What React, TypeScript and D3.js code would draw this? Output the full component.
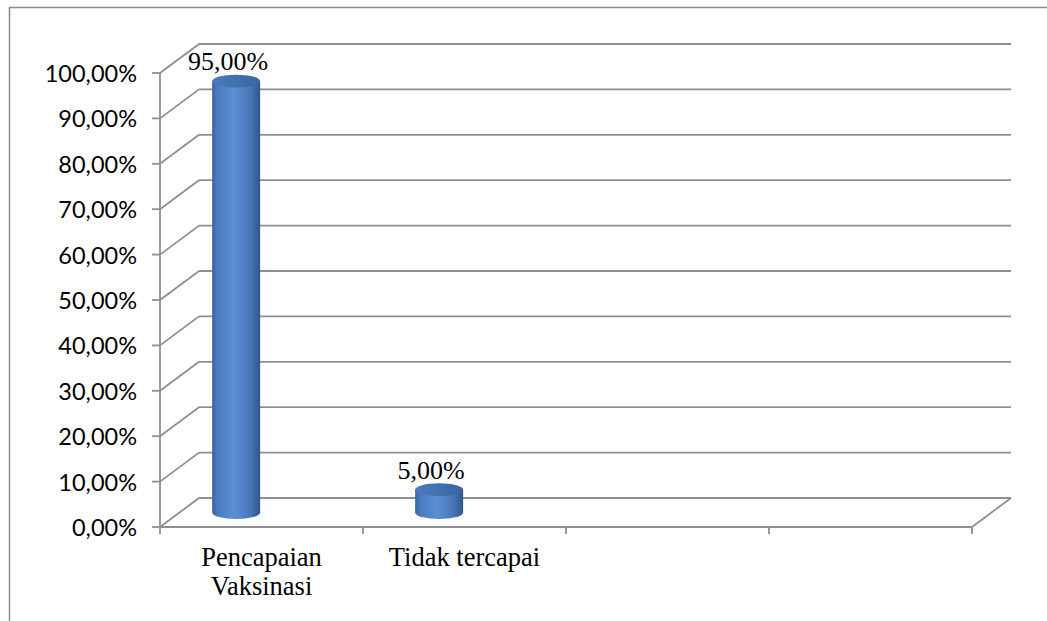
import * as d3 from "d3";

const categories = ["Pencapaian Vaksinasi", "Tidak tercapai", "", ""];
const categoryLines = [["Pencapaian", "Vaksinasi"], ["Tidak tercapai"], [], []];
const values = [95, 5];
const valueLabels = ["95,00%", "5,00%"];
const yTicks = [0, 10, 20, 30, 40, 50, 60, 70, 80, 90, 100];
const yTickLabels = yTicks.map((t) => `${t},00%`);

const width = 1047;
const height = 621;
const depthX = 39;
const depthY = -29;
const gridColor = "#8f8f8f";

const App = () => {
  const keys = categories.map((c, i) => c + i);
  const x = d3.scaleBand<string>().domain(keys).range([160, 972]).padding(0);
  const bw = x.bandwidth();
  const yFront = d3.scaleLinear().domain([0, 100]).range([527, 73]);
  const yMid = d3.scaleLinear().domain([0, 100]).range([527 + depthY / 2, 73 + depthY / 2]);

  const rx = 24;
  const ry = 6.5;

  return (
    <svg width={width} height={height} style={{ position: "absolute", left: 0, top: 0, background: "#fff" }}>
      <defs>
        <linearGradient id="body" x1="0" x2="1" y1="0" y2="0">
          <stop offset="0" stopColor="#3a659f" />
          <stop offset="0.12" stopColor="#4a7cbf" />
          <stop offset="0.45" stopColor="#5b8fd4" />
          <stop offset="0.8" stopColor="#4677b8" />
          <stop offset="1" stopColor="#2d5789" />
        </linearGradient>
        <linearGradient id="top" x1="0" x2="1" y1="0" y2="0">
          <stop offset="0" stopColor="#4a7bbd" />
          <stop offset="1" stopColor="#37669f" />
        </linearGradient>
      </defs>

      {/* outer frame */}
      <path d={`M9.5,${height} V7.5 H${width}`} fill="none" stroke="#8a8a8a" strokeWidth={1.5} />

      {/* back wall gridlines + side diagonals */}
      {yTicks.map((t) => (
        <g key={t} stroke={gridColor} strokeWidth={1.8} fill="none">
          <line x1={160} y1={yFront(t)} x2={160 + depthX} y2={yFront(t) + depthY} />
          <line x1={160 + depthX} y1={yFront(t) + depthY} x2={972 + depthX} y2={yFront(t) + depthY} />
          <line x1={152} y1={yFront(t)} x2={160} y2={yFront(t)} />
        </g>
      ))}

      {/* floor */}
      <g stroke={gridColor} strokeWidth={1.8} fill="none">
        <line x1={160} y1={yFront(0)} x2={972} y2={yFront(0)} />
        <line x1={972} y1={yFront(0)} x2={972 + depthX} y2={yFront(0) + depthY} />
        <line x1={160} y1={yFront(100)} x2={160} y2={yFront(0) + 7} />
        {keys.map((k) => (
          <line key={k} x1={(x(k) ?? 0) + bw} y1={yFront(0)} x2={(x(k) ?? 0) + bw} y2={yFront(0) + 7} />
        ))}
      </g>

      {/* y labels */}
      {yTicks.map((t, i) => (
        <text
          key={t}
          x={137}
          y={yFront(t) + 9}
          textAnchor="end"
          fontFamily="Lato, 'Open Sans', sans-serif"
          fontSize={23.5}
          fill="#000"
        >
          {yTickLabels[i]}
        </text>
      ))}

      {/* cylinders */}
      {values.map((v, i) => {
        const cx = (x(keys[i]) ?? 0) + bw * 0.375;
        const b = yMid(0);
        const t = yMid(v);
        return (
          <g key={i}>
            <path
              d={`M${cx - rx},${t} L${cx - rx},${b} A${rx},${ry} 0 0 0 ${cx + rx},${b} L${cx + rx},${t} Z`}
              fill="url(#body)"
            />
            <ellipse cx={cx} cy={t} rx={rx} ry={ry} fill="url(#top)" />
            <text
              x={cx - 8}
              y={t - 11}
              textAnchor="middle"
              fontFamily="'Liberation Serif', 'Times New Roman', serif"
              fontSize={26}
              fill="#000"
            >
              {valueLabels[i]}
            </text>
          </g>
        );
      })}

      {/* category labels */}
      {keys.map((k, i) =>
        categoryLines[i].map((line, j) => (
          <text
            key={k + j}
            x={(x(k) ?? 0) + bw / 2}
            y={566 + j * 29}
            textAnchor="middle"
            fontFamily="'Liberation Serif', 'Times New Roman', serif"
            fontSize={26.5}
            fill="#000"
          >
            {line}
          </text>
        ))
      )}
    </svg>
  );
};

export default App;
